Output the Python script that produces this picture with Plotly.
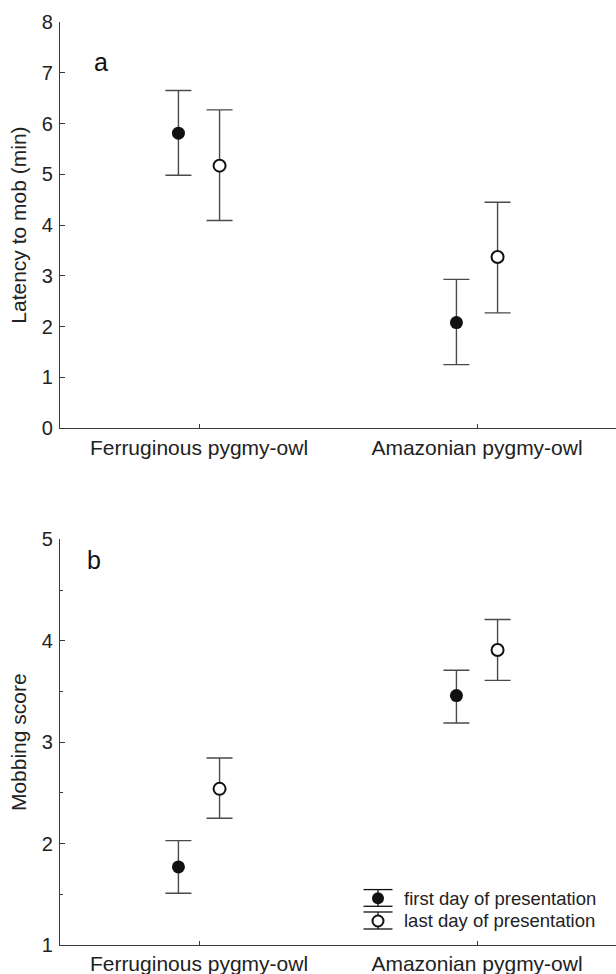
import plotly.graph_objects as go

categories = ["Ferruginous pygmy-owl", "Amazonian pygmy-owl"]
series_names = ["first day of presentation", "last day of presentation"]

latency_first = [5.81, 2.08]
latency_first_hi = [6.65, 2.93]
latency_first_lo = [4.98, 1.25]
latency_last = [5.17, 3.37]
latency_last_hi = [6.27, 4.45]
latency_last_lo = [4.09, 2.27]

score_first = [1.77, 3.46]
score_first_hi = [2.03, 3.71]
score_first_lo = [1.51, 3.19]
score_last = [2.54, 3.91]
score_last_hi = [2.845, 4.21]
score_last_lo = [2.25, 3.61]

latency_ticks = [0, 1, 2, 3, 4, 5, 6, 7, 8]
score_ticks = [1, 2, 3, 4, 5]

W, H = 616, 974
FONT = "Liberation Sans, Arial, sans-serif"
AX = "#3a3a3a"
ERR = "#4a4a4a"
OFF = 0.074
pos = list(range(len(categories)))

fig = go.Figure()

def add_series(vals, hi, lo, offset, filled, xa, ya):
    fig.add_trace(go.Scatter(
        x=[p + offset for p in pos], y=vals, mode="markers",
        xaxis=xa, yaxis=ya, showlegend=False, cliponaxis=False,
        marker=dict(size=13 if filled else 12, color="#111111" if filled else "white",
                    line=dict(color="#111111", width=0 if filled else 2), symbol="circle"),
        error_y=dict(type="data", symmetric=False,
                     array=[h - v for h, v in zip(hi, vals)],
                     arrayminus=[v - l for v, l in zip(vals, lo)],
                     color=ERR, thickness=1.4, width=13),
    ))

add_series(latency_first, latency_first_hi, latency_first_lo, -OFF, True, "x", "y")
add_series(latency_last, latency_last_hi, latency_last_lo, OFF, False, "x", "y")
add_series(score_first, score_first_hi, score_first_lo, -OFF, True, "x2", "y2")
add_series(score_last, score_last_hi, score_last_lo, OFF, False, "x2", "y2")

# pixel layout of the reference
ML, MR, MT = 60, 0, 22
BOT = 944.7
MB = H - BOT
PH = BOT - MT
top_dom = [(BOT - 428) / PH, 1.0]
bot_dom = [0.0, (BOT - 539.3) / PH]

def xaxis(anchor):
    return dict(domain=[0, 1], anchor=anchor, range=[-0.5, 1.5], tickmode="array",
                tickvals=pos, ticktext=categories, ticks="inside", ticklen=4,
                tickcolor=AX, showline=True, linecolor=AX, linewidth=1.2,
                showgrid=False, zeroline=False, automargin=False,
                tickfont=dict(family=FONT, size=21, color="#222"), ticklabelstandoff=0)

def yaxis(anchor, dom, rng, ticks, title, minor):
    d = dict(domain=dom, anchor=anchor, range=rng, tickmode="array", tickvals=ticks,
             ticks="inside", ticklen=5, tickcolor=AX, showline=True, linecolor=AX,
             linewidth=1.2, showgrid=False, zeroline=False, automargin=False,
             tickfont=dict(family=FONT, size=20, color="#222"), ticklabelstandoff=2,
             title=dict(text=title, font=dict(family=FONT, size=21, color="#222"), standoff=9))
    if minor:
        d["minor"] = dict(dtick=0.5, ticks="inside", ticklen=3, tickcolor=AX, showgrid=False)
    return d

fig.update_layout(
    width=W, height=H, margin=dict(l=ML, r=MR, t=MT, b=MB, pad=0),
    paper_bgcolor="white", plot_bgcolor="white", template="none",
    font=dict(family=FONT, color="#222"),
    xaxis=xaxis("y"), yaxis=yaxis("x", top_dom, [0, 8], latency_ticks, "Latency to mob (min)", False),
    xaxis2=xaxis("y2"), yaxis2=yaxis("x2", bot_dom, [1, 5], score_ticks, "Mobbing score", True),
)

fig.add_annotation(text="a", xref="paper", yref="paper", x=(92 - ML) / (W - ML), y=(BOT - 46) / PH,
                   showarrow=False, font=dict(family=FONT, size=25, color="#111"))
fig.add_annotation(text="b", xref="paper", yref="paper", x=(85 - ML) / (W - ML), y=(BOT - 560) / PH,
                   showarrow=False, font=dict(family=FONT, size=25, color="#111"))

def px(xp):
    return (xp - ML) / (W - ML)

def py(yp):
    return (BOT - yp) / PH

# legend (drawn manually to show error-bar caps)
leg_x = 378
cap_half = 14.5
rows = [(898, 889.3, 906, True), (920.7, 911.7, 928.7, False)]
for (name, (cy, ytop, ybot, filled)) in zip(series_names, rows):
    for yy in (ytop, ybot):
        fig.add_shape(type="line", xref="paper", yref="paper",
                      x0=px(leg_x - cap_half), x1=px(leg_x + cap_half),
                      y0=py(yy), y1=py(yy), line=dict(color="#111", width=1.3))
    fig.add_shape(type="line", xref="paper", yref="paper",
                  x0=px(leg_x), x1=px(leg_x), y0=py(ytop), y1=py(ybot),
                  line=dict(color="#111", width=1.3))
    r = 6 if filled else 5.5
    fig.add_shape(type="circle", xref="paper", yref="paper", xsizemode="pixel", ysizemode="pixel",
                  xanchor=px(leg_x), yanchor=py(cy), x0=-r, x1=r, y0=-r, y1=r,
                  fillcolor="#111" if filled else "white",
                  line=dict(color="#111", width=0 if filled else 2))
    fig.add_annotation(text=name, xref="paper", yref="paper", x=px(402), y=py(cy),
                       xanchor="left", yanchor="middle", showarrow=False,
                       font=dict(family=FONT, size=18.5, color="#222"))

fig.write_html("out.html", config={"displayModeBar": False, "staticPlot": True},
               post_script="document.body.style.margin='0';document.body.style.overflow='hidden';")
